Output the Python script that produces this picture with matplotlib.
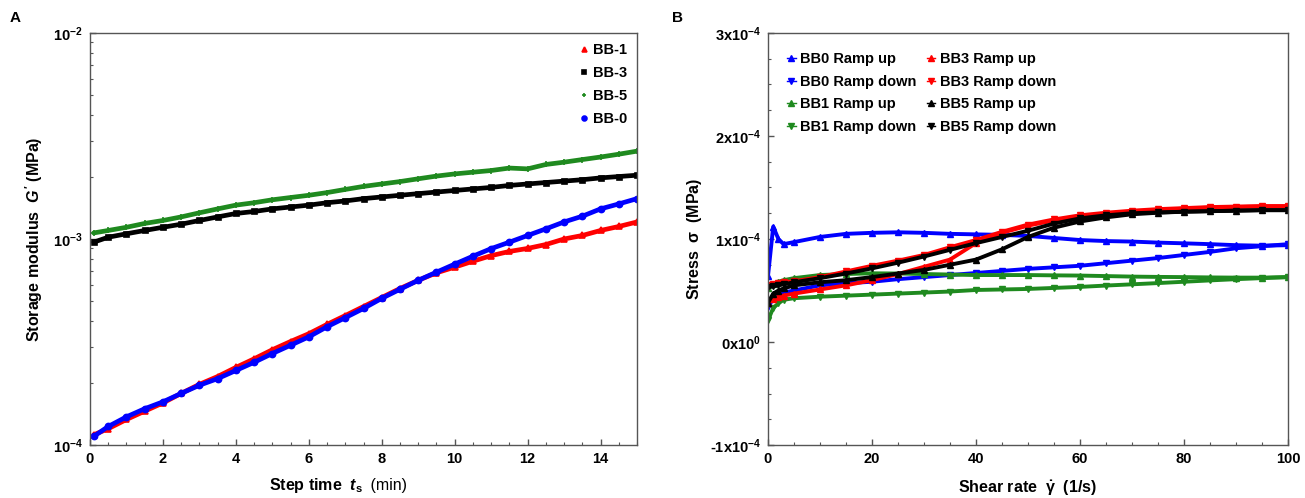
import numpy as np
import matplotlib
matplotlib.use("Agg")
import matplotlib.pyplot as plt
from matplotlib.ticker import MultipleLocator, FixedLocator, FuncFormatter, LogLocator, NullFormatter

plt.rcParams['font.family'] = ['Liberation Sans', 'DejaVu Sans']
plt.rcParams['mathtext.fontset'] = 'custom'
plt.rcParams['mathtext.rm'] = 'Liberation Sans:bold'
plt.rcParams['mathtext.it'] = 'Liberation Sans:bold:italic'
plt.rcParams['mathtext.bf'] = 'Liberation Sans:bold'

# ---- Panel A: storage modulus vs step time ----
step_time = [0.1, 0.5, 1, 1.5, 2, 2.5, 3, 3.5, 4, 4.5, 5, 5.5, 6, 6.5, 7, 7.5,
             8, 8.5, 9, 9.5, 10, 10.5, 11, 11.5, 12, 12.5, 13, 13.5, 14, 14.5, 15]
g_bb1 = [1.12, 1.20, 1.33, 1.46, 1.60, 1.78, 1.97, 2.15, 2.38, 2.62, 2.90, 3.18, 3.47,
         3.85, 4.25, 4.70, 5.20, 5.75, 6.30, 6.85, 7.30, 7.80, 8.30, 8.70, 9.00, 9.40,
         10.0, 10.4, 11.0, 11.5, 12.1]            # x1e-4 MPa
g_bb3 = [0.965, 1.02, 1.06, 1.10, 1.14, 1.18, 1.23, 1.28, 1.33, 1.36, 1.40, 1.43, 1.46,
         1.50, 1.53, 1.57, 1.60, 1.63, 1.66, 1.69, 1.72, 1.75, 1.78, 1.82, 1.85, 1.88,
         1.91, 1.94, 1.98, 2.01, 2.04]            # x1e-3 MPa
g_bb5 = [1.07, 1.10, 1.14, 1.19, 1.23, 1.28, 1.34, 1.40, 1.46, 1.50, 1.55, 1.59, 1.63,
         1.68, 1.74, 1.80, 1.85, 1.90, 1.96, 2.02, 2.07, 2.11, 2.15, 2.21, 2.19, 2.30,
         2.36, 2.43, 2.50, 2.58, 2.67]            # x1e-3 MPa
g_bb0 = [1.10, 1.23, 1.37, 1.50, 1.62, 1.78, 1.95, 2.10, 2.30, 2.52, 2.78, 3.05, 3.35,
         3.75, 4.15, 4.60, 5.15, 5.70, 6.30, 6.90, 7.55, 8.25, 8.98, 9.65, 10.4, 11.2,
         12.1, 12.9, 14.0, 14.8, 15.7]            # x1e-4 MPa

# ---- Panel B: stress vs shear rate (x1e-4 MPa) ----
shear_rate = [0, 1, 2, 3, 5, 10, 15, 20, 25, 30, 35, 40, 45, 50, 55, 60, 65, 70, 75,
              80, 85, 90, 95, 100]
bb0_up = [0.64, 1.12, 1.00, 0.95, 0.97, 1.02, 1.05, 1.06, 1.065, 1.06, 1.05, 1.045,
          1.04, 1.03, 1.01, 0.99, 0.98, 0.975, 0.965, 0.958, 0.95, 0.94, 0.935, 0.94]
bb0_down = [0.34, 0.42, 0.46, 0.48, 0.50, 0.55, 0.57, 0.585, 0.61, 0.63, 0.65, 0.67,
            0.69, 0.71, 0.725, 0.74, 0.765, 0.79, 0.815, 0.845, 0.875, 0.91, 0.93, 0.95]
bb1_up = [0.52, 0.56, 0.585, 0.60, 0.62, 0.65, 0.66, 0.667, 0.665, 0.66, 0.655, 0.65,
          0.65, 0.65, 0.647, 0.645, 0.64, 0.635, 0.632, 0.63, 0.627, 0.625, 0.625, 0.63]
bb1_down = [0.21, 0.33, 0.375, 0.41, 0.425, 0.44, 0.45, 0.46, 0.47, 0.48, 0.49, 0.505,
            0.51, 0.515, 0.525, 0.535, 0.548, 0.56, 0.572, 0.585, 0.598, 0.61, 0.62, 0.63]
bb3_up = [0.38, 0.42, 0.44, 0.45, 0.47, 0.51, 0.55, 0.60, 0.66, 0.73, 0.80, 0.96,
          1.06, 1.13, 1.18, 1.21, 1.24, 1.26, 1.28, 1.295, 1.305, 1.31, 1.315, 1.315]
bb3_down = [0.55, 0.56, 0.57, 0.58, 0.59, 0.63, 0.685, 0.74, 0.79, 0.845, 0.92, 0.99,
            1.07, 1.14, 1.19, 1.23, 1.255, 1.275, 1.29, 1.30, 1.31, 1.315, 1.32, 1.32]
bb5_up = [0.38, 0.47, 0.50, 0.52, 0.55, 0.58, 0.60, 0.63, 0.665, 0.70, 0.75, 0.80,
          0.90, 1.02, 1.11, 1.17, 1.21, 1.24, 1.255, 1.265, 1.27, 1.275, 1.28, 1.28]
bb5_down = [0.53, 0.54, 0.55, 0.56, 0.58, 0.62, 0.665, 0.715, 0.77, 0.83, 0.895, 0.96,
            1.02, 1.08, 1.15, 1.20, 1.23, 1.25, 1.258, 1.265, 1.27, 1.275, 1.28, 1.28]

RED, BLACK, GREEN, BLUE = '#ff0000', '#000000', '#1f8a1f', '#0000ff'
SPINE = '#555555'

fig = plt.figure(figsize=(13.05, 4.98), dpi=100)
axA = fig.add_axes([90 / 1305, 53 / 498, 547 / 1305, 412 / 498])
axB = fig.add_axes([768 / 1305, 53 / 498, 520 / 1305, 412 / 498])

fig.text(10 / 1305, 1 - 18 / 498, 'A', fontsize=11, fontweight='bold', va='center')
fig.text(672 / 1305, 1 - 18 / 498, 'B', fontsize=11, fontweight='bold', va='center')


def style_axes(ax):
    for s in ax.spines.values():
        s.set_color(SPINE)
        s.set_linewidth(1.0)
    ax.tick_params(which='both', direction='in', top=False, right=False,
                   color=SPINE, labelsize=10.5)
    ax.tick_params(which='major', length=4.5, width=1.0, pad=5)
    ax.tick_params(which='minor', length=2.5, width=0.8)
    for lab in ax.get_xticklabels() + ax.get_yticklabels():
        lab.set_fontweight('bold')


# ---- Panel A ----
t = np.array(step_time)
seriesA = [
    (np.array(g_bb1) * 1e-4, RED, '^', 'BB-1', 3.8),
    (np.array(g_bb3) * 1e-3, BLACK, 's', 'BB-3', 3.6),
    (np.array(g_bb5) * 1e-3, GREEN, '+', 'BB-5', 4.5),
    (np.array(g_bb0) * 1e-4, BLUE, 'o', 'BB-0', 4.4),
]
for y, c, m, lab, ms in seriesA:
    axA.plot(t, y, color=c, lw=3.4, marker=m, ms=ms, mew=1.2, label=lab,
             solid_capstyle='round')

axA.set_yscale('log')
axA.set_xlim(0, 15)
axA.set_ylim(1e-4, 1e-2)
axA.xaxis.set_major_locator(MultipleLocator(2))
axA.xaxis.set_minor_locator(MultipleLocator(0.5))
axA.yaxis.set_major_locator(FixedLocator([1e-4, 1e-3, 1e-2]))
axA.yaxis.set_major_formatter(FuncFormatter(
    lambda v, p: r'$\mathregular{10^{%d}}$' % int(round(np.log10(v)))))
axA.yaxis.set_minor_locator(LogLocator(base=10, subs=np.arange(2, 10)))
axA.yaxis.set_minor_formatter(NullFormatter())
style_axes(axA)
axA.set_ylabel(r"Storage modulus  $G'$ (MPa)", fontsize=11.5, fontweight='bold',
               labelpad=6)
fig.text(363 / 1305, 1 - 485 / 498, r'Step time  $t_{\mathregular{s}}$',
         ha='right', va='center', fontsize=11.5, fontweight='bold')
fig.text(366 / 1305, 1 - 485 / 498, ' (min)', ha='left', va='center', fontsize=11.5)

legA = axA.legend(loc='upper right', frameon=False, handlelength=0.6,
                  handletextpad=0.3, labelspacing=0.62, borderaxespad=0.3,
                  prop={'weight': 'bold', 'size': 10.5})
for h in legA.legend_handles:
    h.set_linewidth(0)
    h.set_markersize(3.5)

# ---- Panel B ----
x = np.array(shear_rate)
seriesB = [
    (bb0_up, BLUE, '^', 'BB0 Ramp up'),
    (bb0_down, BLUE, 'v', 'BB0 Ramp down'),
    (bb1_up, GREEN, '^', 'BB1 Ramp up'),
    (bb1_down, GREEN, 'v', 'BB1 Ramp down'),
    (bb3_up, RED, '^', 'BB3 Ramp up'),
    (bb3_down, RED, 'v', 'BB3 Ramp down'),
    (bb5_up, BLACK, '^', 'BB5 Ramp up'),
    (bb5_down, BLACK, 'v', 'BB5 Ramp down'),
]
for y, c, m, lab in seriesB:
    axB.plot(x, np.array(y) * 1e-4, color=c, lw=2.8, marker=m, ms=4.5, label=lab)

axB.set_xlim(0, 100)
axB.set_ylim(-1e-4, 3e-4)
axB.xaxis.set_major_locator(MultipleLocator(20))
axB.xaxis.set_minor_locator(MultipleLocator(5))
axB.yaxis.set_major_locator(MultipleLocator(1e-4))
axB.yaxis.set_minor_locator(MultipleLocator(0.25e-4))


def stress_fmt(v, p):
    k = int(round(v / 1e-4))
    if k == 0:
        return r'$\mathregular{0x10^{0}}$'
    if k < 0:
        return '-' + r'$\mathregular{%dx10^{-4}}$' % -k
    return r'$\mathregular{%dx10^{-4}}$' % k


axB.yaxis.set_major_formatter(FuncFormatter(stress_fmt))
style_axes(axB)
axB.set_ylabel(r'Stress  $\mathregular{\sigma}$  (MPa)', fontsize=11.5,
               fontweight='bold', labelpad=4)
axB.set_xlabel(r'Shear rate  $\mathregular{\dot{\gamma}}$  (1/s)', fontsize=11.5,
               fontweight='bold', labelpad=9)

legB = axB.legend(loc='upper left', ncol=2, frameon=False, handlelength=0.6,
                  handletextpad=0.3, labelspacing=0.6, columnspacing=0.7,
                  borderaxespad=0.9, prop={'weight': 'bold', 'size': 10.5})
for h in legB.legend_handles:
    h.set_linewidth(1.0)
    h.set_markersize(4)

fig.savefig('out.png', dpi=100)
